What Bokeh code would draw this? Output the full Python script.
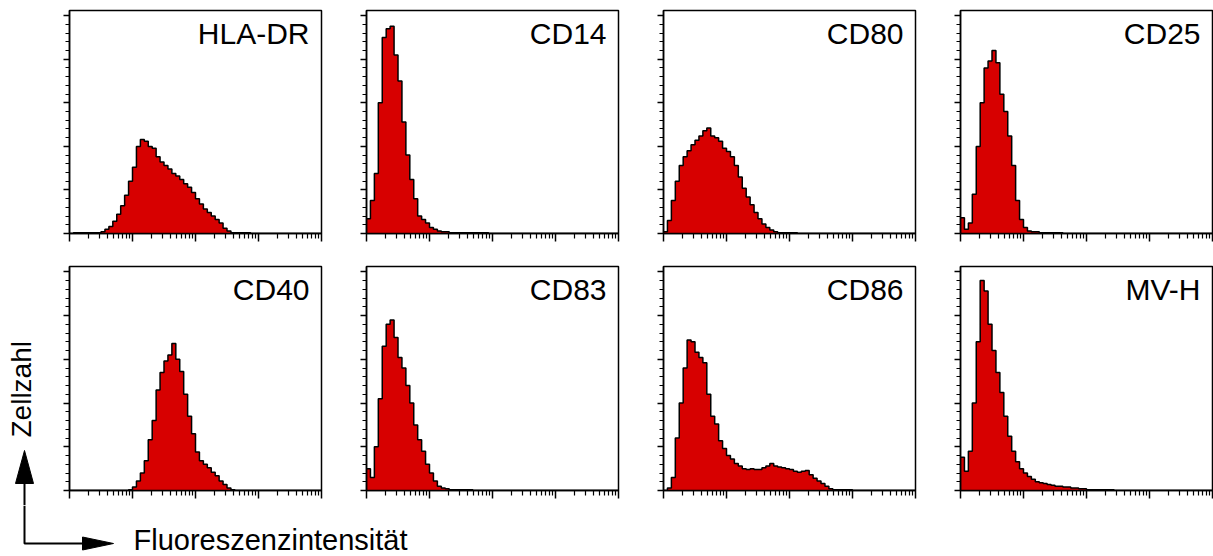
import math
import numpy as np
from bokeh.plotting import figure
from bokeh.layouts import row, column
from bokeh.models import Label, FixedTicker, CustomJSTickFormatter, Range1d
from bokeh.embed import file_html
from bokeh.resources import INLINE

# ---------------- data (64 log-channel bins over 4 decades, counts 0..256) ----------------
markers = ["HLA-DR", "CD14", "CD80", "CD25", "CD40", "CD83", "CD86", "MV-H"]

hla_dr = [0, 1, 1, 1, 1, 1, 1, 1, 2, 5, 8, 14, 22, 32, 44, 60,
          76, 100, 108, 106, 100, 98, 88, 82, 78, 74, 69, 66, 62, 57, 53, 47,
          40, 34, 28, 24, 20, 16, 12, 6, 3, 1, 1, 1, 1, 1, 0, 0,
          0, 0, 0, 0, 0, 0, 0, 0, 0, 0, 0, 0, 0, 0, 0, 0]
cd14 = [17, 38, 69, 150, 225, 235, 238, 205, 175, 128, 90, 62, 40, 20, 16, 12,
        7, 5, 3, 2, 2, 1, 1, 1, 1, 1, 1, 1, 1, 1, 1, 0,
        0, 0, 0, 0, 0, 0, 0, 0, 0, 0, 0, 0, 0, 0, 0, 0,
        0, 0, 0, 0, 0, 0, 0, 0, 0, 0, 0, 0, 0, 0, 0, 0]
cd80 = [2, 15, 38, 60, 78, 88, 95, 102, 107, 112, 118, 121, 112, 110, 106, 98,
        94, 88, 78, 65, 52, 42, 33, 24, 17, 11, 7, 4, 2, 1, 1, 1,
        1, 1, 0, 0, 0, 0, 0, 0, 0, 0, 0, 0, 0, 0, 0, 0,
        0, 0, 0, 0, 0, 0, 0, 0, 0, 0, 0, 0, 0, 0, 0, 0]
cd25 = [18, 5, 12, 45, 100, 150, 190, 198, 210, 196, 160, 140, 112, 78, 38, 16,
        7, 3, 2, 2, 1, 1, 1, 1, 1, 1, 0, 0, 0, 0, 0, 0,
        0, 0, 0, 0, 0, 0, 0, 0, 0, 0, 0, 0, 0, 0, 0, 0,
        0, 0, 0, 0, 0, 0, 0, 0, 0, 0, 0, 0, 0, 0, 0, 0]
cd40 = [0, 0, 0, 0, 0, 0, 0, 0, 0, 0, 0, 0, 0, 0, 0, 1,
        4, 11, 20, 34, 58, 80, 115, 135, 148, 155, 168, 150, 136, 110, 85, 65,
        44, 34, 30, 26, 21, 17, 11, 7, 3, 1, 0, 0, 0, 0, 0, 0,
        0, 0, 0, 0, 0, 0, 0, 0, 0, 0, 0, 0, 0, 0, 0, 0]
cd83 = [25, 15, 50, 105, 165, 190, 195, 175, 152, 140, 120, 100, 75, 58, 45, 30,
        20, 11, 5, 3, 2, 1, 1, 1, 1, 1, 1, 0, 0, 0, 0, 0,
        0, 0, 0, 0, 0, 0, 0, 0, 0, 0, 0, 0, 0, 0, 0, 0,
        0, 0, 0, 0, 0, 0, 0, 0, 0, 0, 0, 0, 0, 0, 0, 0]
cd86 = [0, 3, 15, 60, 100, 140, 172, 170, 158, 152, 146, 110, 85, 76, 57, 48,
        40, 36, 31, 28, 25, 24, 25, 24, 24, 26, 28, 31, 28, 27, 26, 25,
        24, 22, 21, 22, 23, 18, 14, 11, 8, 5, 2, 1, 1, 1, 1, 1,
        0, 0, 0, 0, 0, 0, 0, 0, 0, 0, 0, 0, 0, 0, 0, 0]
mv_h = [38, 22, 45, 100, 170, 240, 228, 190, 160, 135, 112, 85, 62, 45, 33, 25,
        20, 16, 13, 10, 9, 8, 7, 6, 5, 5, 4, 4, 3, 3, 2, 2,
        1, 1, 1, 1, 1, 1, 1, 0, 0, 0, 0, 0, 0, 0, 0, 0,
        0, 0, 0, 0, 0, 0, 0, 0, 0, 0, 0, 0, 0, 0, 0, 0]

series = [hla_dr, cd14, cd80, cd25, cd40, cd83, cd86, mv_h]

x_label = "Fluoreszenzintensität"
y_label = "Zellzahl"

decades = [0, 1, 2, 3, 4]
y_major = [0, 50, 100, 150, 200, 250]
y_minor = [10, 20, 30, 40, 60, 70, 80, 90, 110, 120, 130, 140,
           160, 170, 180, 190, 210, 220, 230, 240]
x_minor = [d + math.log10(k) for d in range(4) for k in range(2, 10)]

# ---------------- style ----------------
RED = "#D70000"
FONT = "Liberation Sans"
YMAX = 256
FRAME_W = 252
LEFT_W = 39
BORDER_L = 30
BORDER_R = 15

def step_path(counts):
    n = len(counts)
    edges = np.linspace(0, 4, n + 1)
    xs = [edges[0]]
    ys = [0]
    for i, c in enumerate(counts):
        xs += [edges[i], edges[i + 1]]
        ys += [c, c]
    xs.append(edges[-1])
    ys.append(0)
    return xs, ys

def panel(counts, name, frame_h, b_top, b_bottom, b_right):
    width = BORDER_L + FRAME_W + b_right
    height = b_top + frame_h + b_bottom
    p = figure(width=width, height=height, x_range=Range1d(0, 4), y_range=Range1d(0, YMAX),
               output_backend="svg", toolbar_location=None, tools="",
               min_border_left=BORDER_L, min_border_right=b_right,
               min_border_top=b_top, min_border_bottom=b_bottom)
    p.xgrid.visible = False
    p.ygrid.visible = False
    p.background_fill_color = "white"
    p.border_fill_color = "white"
    p.outline_line_color = "black"
    p.outline_line_width = 1.5

    xs, ys = step_path(counts)
    p.patch(xs, ys, fill_color=RED, line_color=None)
    p.line(xs, ys, line_color="black", line_width=1.5)

    p.xaxis.ticker = FixedTicker(ticks=decades, minor_ticks=x_minor)
    p.yaxis.ticker = FixedTicker(ticks=y_major, minor_ticks=y_minor)
    for ax in (p.xaxis[0], p.yaxis[0]):
        ax.formatter = CustomJSTickFormatter(code="return ''")
        ax.major_label_text_font_size = "0px"
        ax.major_label_standoff = 0
        ax.axis_line_color = "black"
        ax.axis_line_width = 1.5
        ax.major_tick_line_color = "black"
        ax.minor_tick_line_color = "black"
        ax.major_tick_line_width = 1.5
        ax.minor_tick_line_width = 1.2
        ax.major_tick_in = 0
        ax.minor_tick_in = 0
    p.xaxis.major_tick_out = 8
    p.xaxis.minor_tick_out = 5
    p.yaxis.major_tick_out = 6
    p.yaxis.minor_tick_out = 4

    ytxt = YMAX - 23 * YMAX / frame_h
    p.add_layout(Label(x=4, y=ytxt, x_offset=-12, text=name, text_align="right",
                       text_baseline="alphabetic", text_font=FONT,
                       text_font_size="30px", text_color="black"))
    return p

top = []
bottom = []
for i in range(4):
    br = BORDER_R if i < 3 else 1
    top.append(panel(series[i], markers[i], 223, 10, 23, br))
    bottom.append(panel(series[i + 4], markers[i + 4], 224, 10, 15, br))

# left strip (Zellzahl + arrow head)
LH = 505
left = figure(width=LEFT_W, height=LH, x_range=Range1d(0, LEFT_W), y_range=Range1d(0, LH),
              output_backend="svg", toolbar_location=None, tools="", min_border=0,
              x_axis_location=None, y_axis_location=None)
left.grid.visible = False
left.outline_line_color = None
left.add_layout(Label(x=21, y=LH - 437, text=y_label, angle=math.pi / 2,
                      text_align="left", text_baseline="alphabetic",
                      text_font=FONT, text_font_size="28px", text_color="black"))
left.line([24, 24], [LH - 483, 0], line_color="black", line_width=2)
left.patch([24, 15, 33], [LH - 450, LH - 483, LH - 483], fill_color="black", line_color="black", line_width=1)

# bottom strip (arrow + Fluoreszenzintensität)
BH = 51
bot = figure(width=1213, height=BH, x_range=Range1d(0, 1213), y_range=Range1d(0, BH),
             output_backend="svg", toolbar_location=None, tools="", min_border=0,
             x_axis_location=None, y_axis_location=None)
bot.grid.visible = False
bot.outline_line_color = None
bot.line([24, 24, 84], [BH, 13, 13], line_color="black", line_width=2)
bot.patch([113, 82, 82], [13, 19.5, 6.5], fill_color="black", line_color="black", line_width=1)
bot.add_layout(Label(x=133, y=17, text=x_label, text_align="left", text_baseline="alphabetic",
                     text_font=FONT, text_font_size="29px", text_color="black"))

layout = column(row(left, column(row(*top), row(*bottom))), bot)

open("out.html", "w").write(file_html(layout, INLINE))
